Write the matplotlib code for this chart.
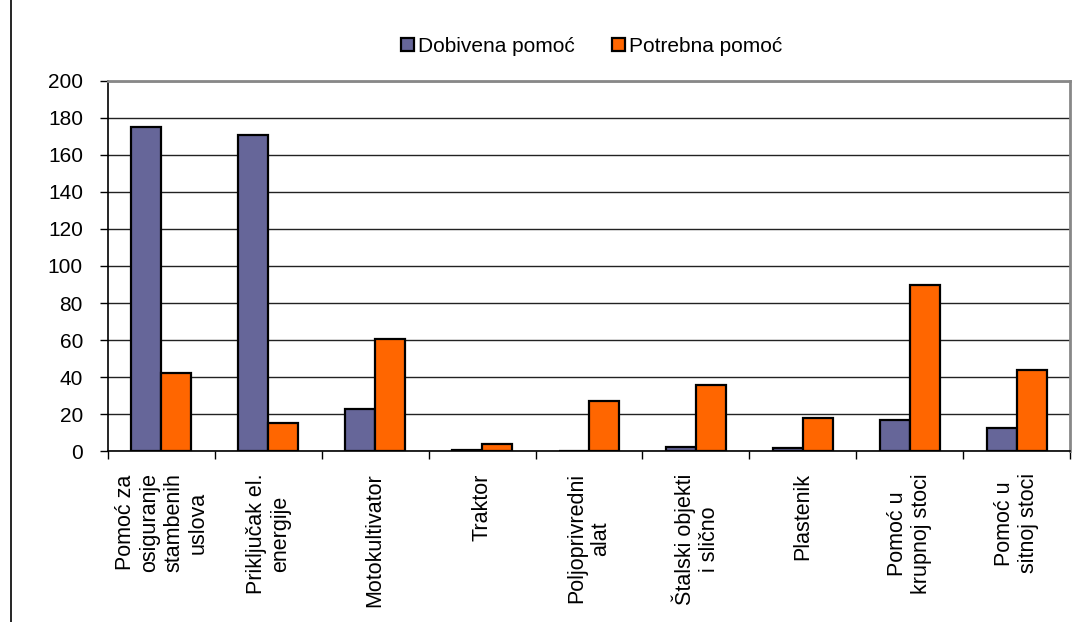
import numpy as np
import matplotlib
matplotlib.use("Agg")
import matplotlib.pyplot as plt
from matplotlib.lines import Line2D

plt.rcParams["font.family"] = ["Liberation Sans", "DejaVu Sans"]

# --- Data ---
categories = [
    "Pomoć za\nosiguranje\nstambenih\nuslova",
    "Priključak el.\nenergije",
    "Motokultivator",
    "Traktor",
    "Poljoprivredni\nalat",
    "Štalski objekti\ni slično",
    "Plastenik",
    "Pomoć u\nkrupnoj stoci",
    "Pomoć u\nsitnoj stoci",
]
dobivena = [175, 171, 22.5, 0.5, 0, 2.3, 1.6, 17, 12.5]
potrebna = [42, 15, 60.5, 3.8, 27, 35.8, 18, 89.5, 44]
series_names = ["Dobivena pomoć", "Potrebna pomoć"]
yticks = [0, 20, 40, 60, 80, 100, 120, 140, 160, 180, 200]

# --- Plot ---
fig = plt.figure(figsize=(10.86, 6.22), dpi=100)
ax = fig.add_axes([0.0994, 0.2749, 0.8859, 0.5949])

x = np.arange(len(categories))
w = 0.28
ax.bar(x - w / 2, dobivena, width=w, color="#666699", edgecolor="black",
       linewidth=1.6, label=series_names[0], zorder=3)
ax.bar(x + w / 2, potrebna, width=w, color="#FF6600", edgecolor="black",
       linewidth=1.6, label=series_names[1], zorder=3)

ax.set_xlim(-0.5, len(categories) - 0.5)
ax.set_ylim(0, 200)
ax.set_yticks(yticks)
ax.yaxis.grid(True, color="#222222", linewidth=1.0, zorder=0)
ax.set_axisbelow(True)

# tick marks between categories, labels at the centres
ax.set_xticks(np.arange(len(categories) + 1) - 0.5)
ax.set_xticklabels([])
ax.set_xticks(x, minor=True)
labels = ax.set_xticklabels(categories, minor=True, rotation=90, ha="center",
                            va="top", multialignment="center", fontsize=15.5)
for t in labels:
    t.set_linespacing(1.2)
ax.tick_params(axis="x", which="major", direction="out", length=6,
               width=1, color="black")
ax.tick_params(axis="x", which="minor", length=0, pad=16)
ax.tick_params(axis="y", direction="out", length=6, width=1,
               color="black", labelsize=15, pad=12)

for side in ["left", "bottom"]:
    ax.spines[side].set_color("black")
    ax.spines[side].set_linewidth(1.2)
for side in ["top", "right"]:
    ax.spines[side].set_color("#888888")
    ax.spines[side].set_linewidth(2)

ax.legend(loc="center", bbox_to_anchor=(0.545, 0.925),
          bbox_transform=fig.transFigure, ncol=2, frameon=False,
          fontsize=15, handlelength=0.6, handleheight=0.6,
          handletextpad=0.2, columnspacing=1.8)

# border line on the left of the picture
fig.add_artist(Line2D([0.0101, 0.0101], [0, 1], color="black", linewidth=1.2))

plt.savefig("out.png", dpi=100)
